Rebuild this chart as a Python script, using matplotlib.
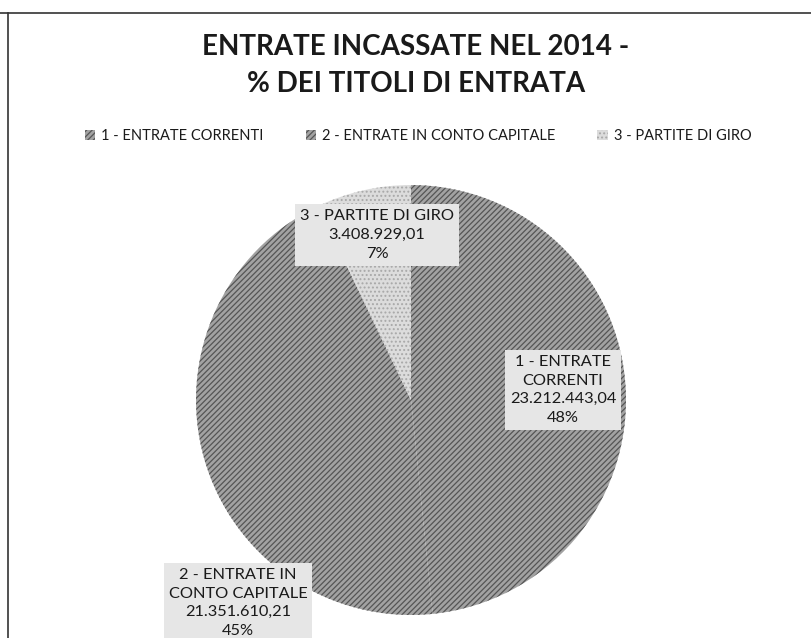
import matplotlib
matplotlib.use("Agg")
import matplotlib.pyplot as plt
from matplotlib.lines import Line2D

plt.rcParams['font.family'] = ['Lato', 'DejaVu Sans']
plt.rcParams['hatch.linewidth'] = 0.9

# dati
categorie = ['1 - ENTRATE CORRENTI', '2 - ENTRATE IN CONTO CAPITALE', '3 - PARTITE DI GIRO']
etichette = ['1 - ENTRATE\nCORRENTI', '2 - ENTRATE IN\nCONTO CAPITALE', '3 - PARTITE DI GIRO']
importi = [23212443.04, 21351610.21, 3408929.01]
importi_txt = ['23.212.443,04', '21.351.610,21', '3.408.929,01']

W, H = 812, 638
fig = plt.figure(figsize=(W / 100, H / 100), dpi=100)
ax = fig.add_axes([0, 0, 1, 1])
ax.set_aspect('equal')

cx, cy, r = 411, H - 400, 215
colori = ['#a2a2a2', '#a2a2a2', '#dcdcdc']
tratteggi = ['//////', '//////', '....']
bordi = ['#555555', '#555555', '#a8a8a8']

wedges, _ = ax.pie(importi, startangle=90, counterclock=False, center=(cx, cy),
                   radius=r, colors=colori, frame=True,
                   wedgeprops=dict(linewidth=0))
for w, h, e in zip(wedges, tratteggi, bordi):
    w.set_hatch(h)
    w.set_edgecolor(e)
ax.set_xlim(0, W)
ax.set_ylim(0, H)
ax.axis('off')

tot = sum(importi)
pos_etichette = [(563, H - 390), (238, H - 603), (377, H - 235)]
for lab, val, v, (x, y) in zip(etichette, importi_txt, importi, pos_etichette):
    txt = '%s\n%s\n%d%%' % (lab, val, round(v / tot * 100))
    ax.text(x, y, txt, ha='center', va='center', fontsize=11.8, color='#1a1a1a',
            linespacing=1.42,
            bbox=dict(boxstyle='square,pad=0.3', facecolor='#e6e6e6',
                      edgecolor='none'))

# titolo
fig.text(0.512, 1 - 47 / H, 'ENTRATE INCASSATE NEL 2014 -', ha='center', va='center',
         fontsize=20, fontweight='bold', color='#1a1a1a')
fig.text(0.512, 1 - 84 / H, '% DEI TITOLI DI ENTRATA', ha='center', va='center',
         fontsize=20, fontweight='bold', color='#1a1a1a')

# legenda
leg = ax.legend(wedges, categorie, loc='center', bbox_to_anchor=(0.515, 1 - 136 / H),
                ncol=3, frameon=False, fontsize=10.5, handlelength=0.7, handleheight=0.7,
                handletextpad=0.4, columnspacing=2.9, labelcolor='#1a1a1a')

# cornice della scansione
fig.add_artist(Line2D([0, 1], [1 - 13 / H, 1 - 13 / H], color='#333333', lw=1.2))
fig.add_artist(Line2D([8 / W, 8 / W], [0, 1 - 13 / H], color='#333333', lw=1.2))

fig.savefig('out.png', dpi=100, facecolor='white')
